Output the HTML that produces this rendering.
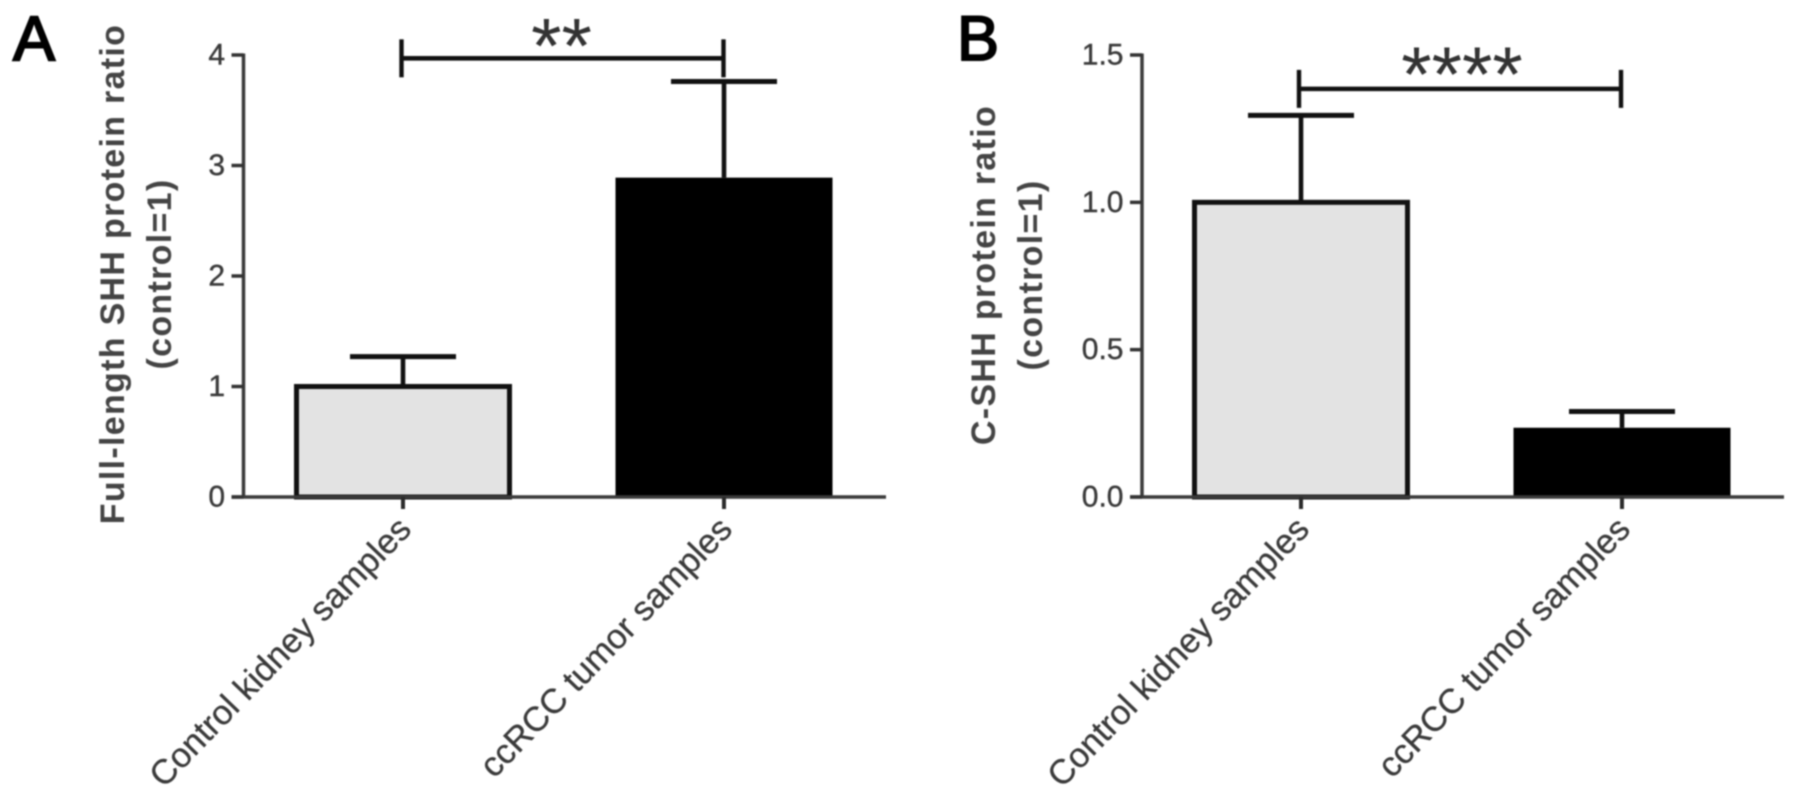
<!DOCTYPE html>
<html lang="en">
<head>
<meta charset="utf-8">
<title>SHH protein ratio bar charts</title>
<style>
html,body{margin:0;padding:0;background:#fff;width:1795px;height:801px;overflow:hidden}
svg{display:block;filter:blur(0.7px)}
text{font-family:"Liberation Sans",Arial,sans-serif}
</style>
</head>
<body>
<svg id="fig" xmlns="http://www.w3.org/2000/svg" width="1795" height="801" viewBox="0 0 1795 801">
<text x="13" y="60" font-size="63" fill="#000" stroke="#000" stroke-width="2">A</text>
<text x="957" y="60" font-size="63" fill="#000" stroke="#000" stroke-width="2">B</text>
</svg>
<script>
var categories = ["Control kidney samples", "ccRCC tumor samples"];

var ticksA = ["0", "1", "2", "3", "4"];
var tickValuesA = [0, 1, 2, 3, 4];
var valuesA = [1.0, 2.89];
var errorTopsA = [1.27, 3.76];
var titleA = ["Full-length SHH protein ratio", "(control=1)"];
var sigStarsA = "**";
var sigLevelA = [3.97];

var ticksB = ["0.0", "0.5", "1.0", "1.5"];
var tickValuesB = [0, 0.5, 1, 1.5];
var valuesB = [1.0, 0.235];
var errorTopsB = [1.295, 0.29];
var titleB = ["C-SHH protein ratio", "(control=1)"];
var sigStarsB = "****";
var sigLevelB = [1.385];

var NS = "http://www.w3.org/2000/svg";
var svg = document.getElementById("fig");

function make(tag, parent, attrs, txt) {
  var el = document.createElementNS(NS, tag);
  for (var k in attrs) el.setAttribute(k, attrs[k]);
  if (txt !== undefined) el.textContent = txt;
  parent.appendChild(el);
  return el;
}

function drawPanel(p) {
  var yScale = function (v) { return p.y0 - (v / p.yMax) * (p.y0 - p.yTop); };
  var xScale = function (i) { return p.xFirst + i * p.step; };
  var barW = 217;
  var g = make("g", svg, {});
  
  

  // bars
  p.values.forEach(function (v, i) {
    var cx = xScale(i);
    var bar = make("rect", g, {
      x: cx - barW / 2 + (i === 0 ? 2 : 0),
      y: yScale(v),
      width: barW - (i === 0 ? 4 : 0),
      height: p.y0 - yScale(v),
      fill: i === 0 ? "#e3e3e3" : "#000",
      stroke: "#111",
      "stroke-width": i === 0 ? 5 : 0
    });
    
    

    var stem = make("line", g, {
      x1: cx, x2: cx, y1: yScale(v), y2: yScale(p.errorTops[i]),
      stroke: "#111", "stroke-width": 4.6
    });
    
    

    var cap = make("line", g, {
      x1: cx - 53, x2: cx + 53, y1: yScale(p.errorTops[i]), y2: yScale(p.errorTops[i]),
      stroke: "#111", "stroke-width": 5
    });
    
    
  });

  // axes
  var yAxis = make("line", g, {
    x1: p.axisX, x2: p.axisX, y1: yScale(p.yMax) - 1.5, y2: p.y0 + 1.5,
    stroke: "#3a3a3a", "stroke-width": 3.5
  });
  
  

  var xAxis = make("line", g, {
    x1: p.axisX - 12, x2: p.axisEnd, y1: p.y0, y2: p.y0,
    stroke: "#3a3a3a", "stroke-width": 3.5
  });
  
  

  // y ticks
  p.tickValues.forEach(function (t, i) {
    var tick = make("line", g, {
      x1: p.axisX - 12, x2: p.axisX, y1: yScale(t), y2: yScale(t),
      stroke: "#333", "stroke-width": 3.5
    });
    
    

    var label = make("text", g, {
      x: p.axisX - 18.5, y: yScale(t) + 9.5, "text-anchor": "end",
      "font-size": 30, fill: "#3a3a3a", stroke: "#3a3a3a", "stroke-width": 0.4
    }, p.tickLabels[i]);
    
    
  });

  // x ticks + rotated labels
  categories.forEach(function (c, i) {
    var cx = xScale(i);
    var tick = make("line", g, {
      x1: cx, x2: cx, y1: p.y0, y2: p.y0 + 12,
      stroke: "#2a2a2a", "stroke-width": 4
    });
    
    

    var lx = cx + 10, ly = p.y0 + 34;
    var label = make("text", g, {
      x: lx, y: ly, "text-anchor": "end", "font-size": 34.5, fill: "#3a3a3a",
      stroke: "#3a3a3a", "stroke-width": 0.3,
      transform: "rotate(-46 " + lx + " " + ly + ")"
    }, c);
    
    
  });

  // y title
  var cy = p.titleCy;
  var t1 = make("text", g, {
    x: p.titleX, y: cy, "text-anchor": "middle", "font-size": 34, "font-weight": "bold", fill: "#444",
    "letter-spacing": 1.3,
    transform: "rotate(-90 " + p.titleX + " " + cy + ")"
  }, p.title[0]);
  
  

  var x2 = p.titleX + 47;
  var t2 = make("text", g, {
    x: x2, y: cy, "text-anchor": "middle", "font-size": 34, "font-weight": "bold", fill: "#444",
    "letter-spacing": 1.3,
    transform: "rotate(-90 " + x2 + " " + cy + ")"
  }, p.title[1]);
  
  

  // significance bracket
  var sy = yScale(p.sigLevel[0]);
  var sL = xScale(0) + p.sigOffset;
  var sR = xScale(1) + p.sigOffset + 1;
  var hLine = make("line", g, { x1: sL, x2: sR, y1: sy, y2: sy, stroke: "#111", "stroke-width": 4.6 });
  
  

  var lTick = make("line", g, { x1: sL, x2: sL, y1: sy - 19, y2: sy + 19, stroke: "#111", "stroke-width": 4.4 });
  
  

  var rTick = make("line", g, { x1: sR, x2: sR, y1: sy - 19, y2: sy + 19, stroke: "#111", "stroke-width": 4.4 });
  
  

  var stars = make("text", g, {
    x: (sL + sR) / 2 + p.starShift, y: sy + p.starDy, "text-anchor": "middle",
    "font-size": 78, fill: "#333"
  }, p.stars);
  
  
}

drawPanel({
  id: "panel-a", values: valuesA, errorTops: errorTopsA, tickValues: tickValuesA, tickLabels: ticksA,
  title: titleA, stars: sigStarsA, sigLevel: sigLevelA, yMax: 4, y0: 497, yTop: 55,
  axisX: 243.5, axisEnd: 886, xFirst: 403, step: 321, titleX: 124, titleCy: 274,
  sigOffset: -1.5, starShift: -1, starDy: 14
});
drawPanel({
  id: "panel-b", values: valuesB, errorTops: errorTopsB, tickValues: tickValuesB, tickLabels: ticksB,
  title: titleB, stars: sigStarsB, sigLevel: sigLevelB, yMax: 1.5, y0: 497, yTop: 55,
  axisX: 1142, axisEnd: 1784, xFirst: 1301, step: 321, titleX: 995, titleCy: 275,
  sigOffset: -2, starShift: 2, starDy: 12
});
</script>
</body>
</html>
